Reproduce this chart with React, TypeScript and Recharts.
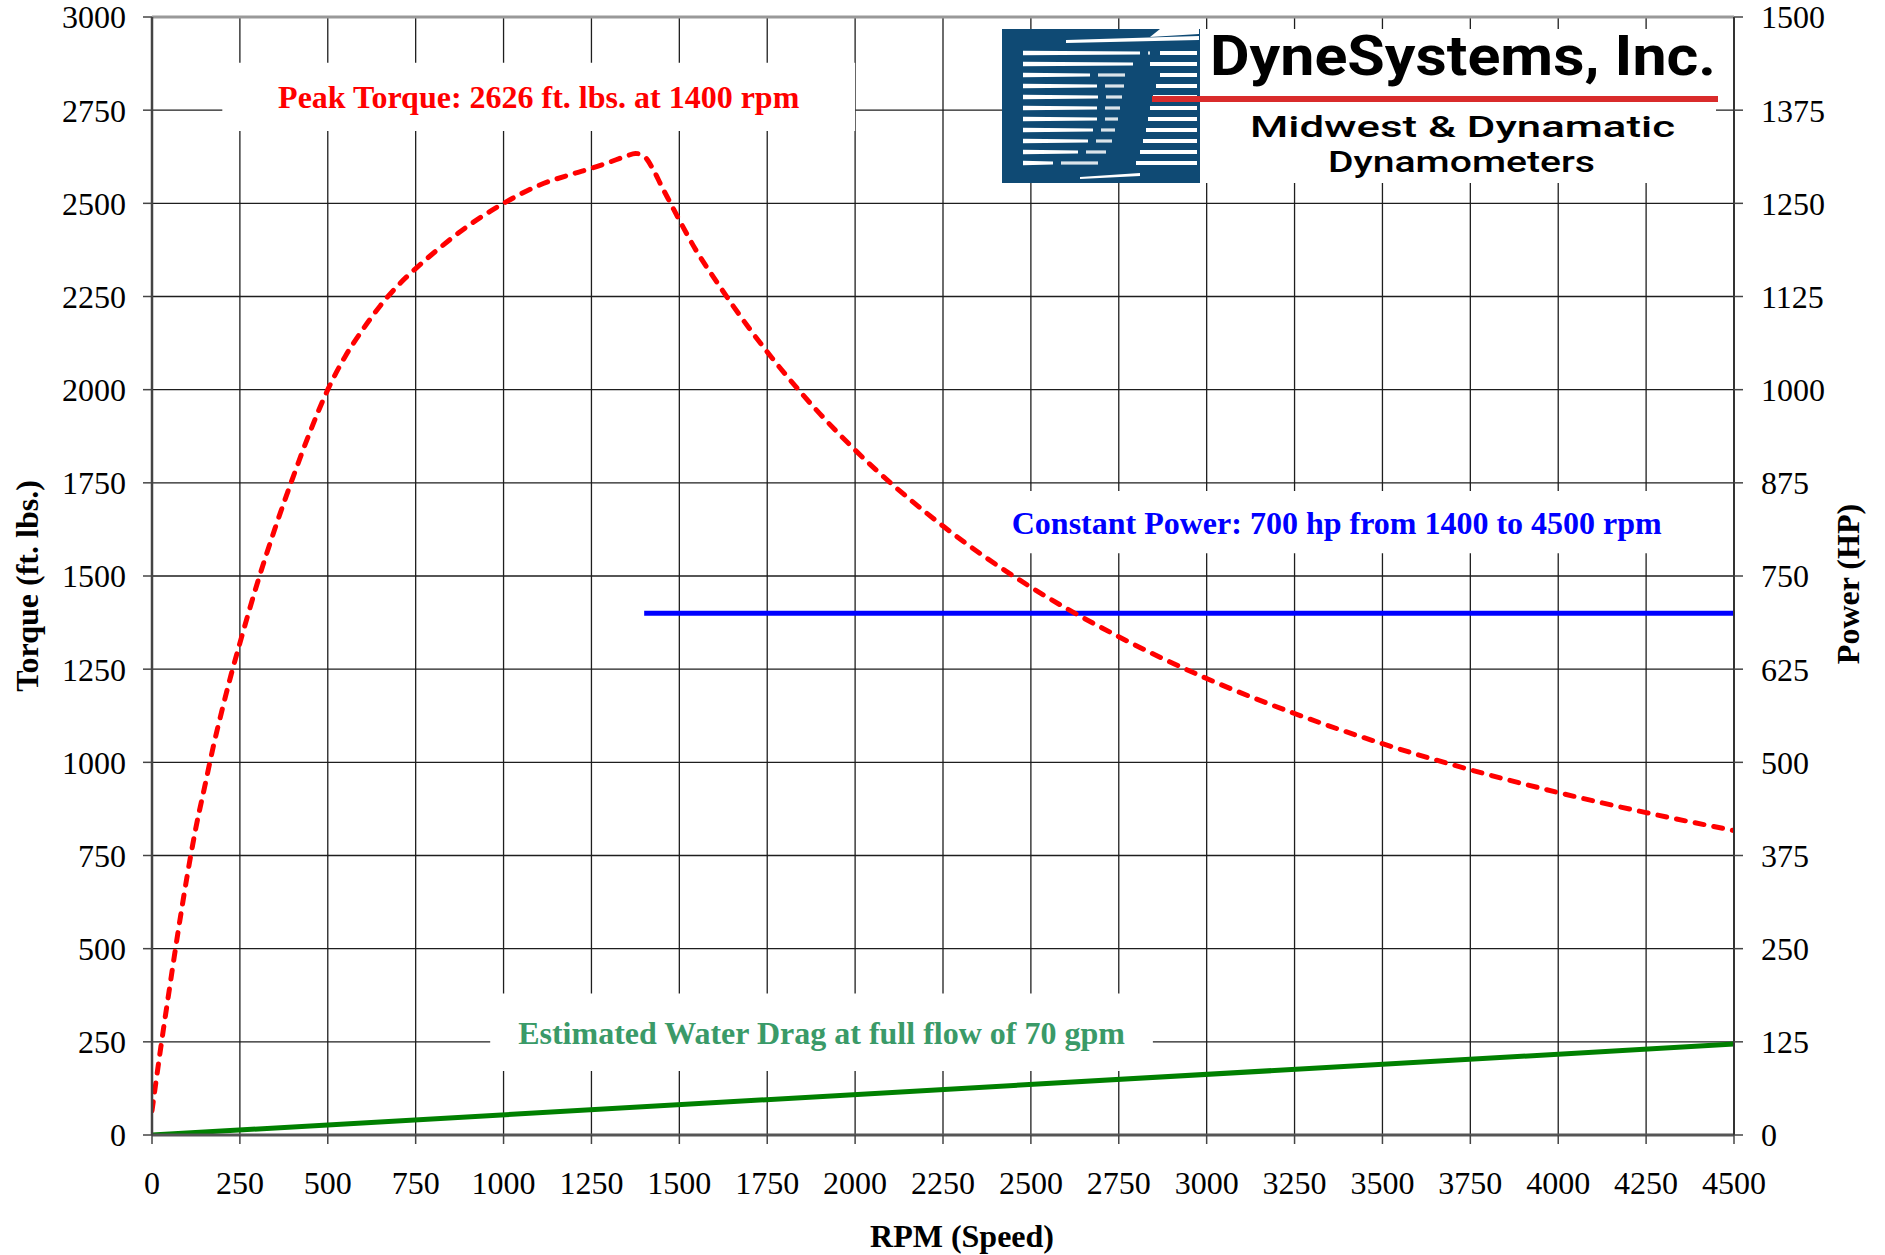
import {
  LineChart,
  Line,
  XAxis,
  YAxis,
  CartesianGrid,
  ReferenceArea,
  ReferenceLine,
} from 'recharts';

// axis ticks
const rpmTicks = [0, 250, 500, 750, 1000, 1250, 1500, 1750, 2000, 2250, 2500, 2750, 3000, 3250, 3500, 3750, 4000, 4250, 4500];
const torqueTicks = [0, 250, 500, 750, 1000, 1250, 1500, 1750, 2000, 2250, 2500, 2750, 3000];
const powerTicks = [0, 125, 250, 375, 500, 625, 750, 875, 1000, 1125, 1250, 1375, 1500];

// torque curve (ft. lbs.)
const torqueRpm = [
  0, 25, 50, 75, 100, 125, 150, 175, 200, 225, 250, 300, 350, 400, 450, 500, 550, 600, 650, 700, 750, 800, 900,
  1000, 1100, 1200, 1250, 1300, 1350, 1375, 1400, 1425, 1450, 1475, 1500, 1550, 1600, 1700, 1800,
  1900, 2000, 2250, 2500, 2750, 3000, 3250, 3500, 3750, 4000, 4250, 4500,
];
const torqueValues = [
  65, 235, 395, 550, 695, 825, 935, 1045, 1143, 1235, 1320, 1482, 1628, 1762, 1888, 2000, 2090, 2162, 2226, 2280, 2325, 2366, 2440,
  2500, 2548, 2580, 2594, 2610, 2627, 2634, 2626, 2592, 2545, 2500, 2455, 2370, 2298, 2163, 2043,
  1935, 1838, 1634, 1470, 1337, 1225, 1131, 1050, 980, 919, 865, 817,
];

// constant power (HP)
const powerRpm = [1400, 4500];
const powerValues = [700, 700];

// estimated water drag (HP)
const dragRpm = [0, 4500];
const dragValues = [0, 122];

const torqueData = torqueRpm.map((rpm, i) => ({ rpm, torque: torqueValues[i] }));
const powerData = powerRpm.map((rpm, i) => ({ rpm, power: powerValues[i] }));
const dragData = dragRpm.map((rpm, i) => ({ rpm, drag: dragValues[i] }));

const SERIF = '"Liberation Serif", "Times New Roman", serif';
const tickStyle = { fontSize: 32, fontFamily: SERIF, fill: '#000' };
const labelStyle = { fontSize: 32, fontWeight: 700, fontFamily: SERIF };

// logo stripes: [y, left end, gap start, gap end]
const STRIPES: [number, number, number, number][] = [
  [53, 1140, 1150, 1160],
  [64, 1133, 1140, 1150],
  [75, 1090, 1125, 1160],
  [86, 1097, 1124, 1156],
  [97, 1098, 1122, 1153],
  [108, 1097, 1120, 1150],
  [119, 1097, 1118, 1148],
  [130, 1093, 1115, 1146],
  [141, 1088, 1112, 1143],
  [152, 1078, 1106, 1140],
  [163, 1053, 1098, 1136],
];

function Overlay() {
  return (
    <svg
      width={1885}
      height={1255}
      style={{ position: 'absolute', left: 0, top: 0, pointerEvents: 'none' }}
    >
      {/* axis titles */}
      <text x={962} y={1236} textAnchor="middle" dominantBaseline="central" style={labelStyle}>
        RPM (Speed)
      </text>
      <text
        x={27}
        y={586}
        textAnchor="middle"
        dominantBaseline="central"
        transform="rotate(-90, 27, 586)"
        style={labelStyle}
      >
        Torque (ft. lbs.)
      </text>
      <text
        x={1848}
        y={584}
        textAnchor="middle"
        dominantBaseline="central"
        transform="rotate(-90, 1848, 584)"
        style={labelStyle}
      >
        Power (HP)
      </text>

      {/* logo */}
      <rect x={1003} y={29} width={713} height={154} fill="#fff" />
      <rect x={1002} y={29} width={198} height={154} fill="#0f4a74" />
      <polygon points="1066,40 1199,36 1199,40 1066,43" fill="#fff" />
      <polygon points="1160,29 1199,29 1199,34 1150,37" fill="#fff" />
      <polygon points="1080,177 1140,173 1140,176 1080,179" fill="#fff" />
      {STRIPES.map(([y, a, b, c]) => (
        <g key={y}>
          <polygon points={`1023,${y - 2.2} ${a},${y - 1.4} ${a},${y + 1.4} 1023,${y + 2.2}`} fill="#fff" />
          <rect x={a + 8} y={y - 1.6} width={b - a - 8} height={3.2} fill="#fff" fillOpacity={0.85} />
          <rect x={c} y={y - 2} width={1197 - c} height={4} fill="#fff" />
        </g>
      ))}
      <rect x={1152} y={96} width={566} height={6} fill="#d92b2b" />
      <text
        x={1210}
        y={75}
        textLength={506}
        lengthAdjust="spacingAndGlyphs"
        style={{ fontSize: 56, fontWeight: 700, fontFamily: 'Roboto, "Open Sans", sans-serif', fill: '#000' }}
      >
        DyneSystems, Inc.
      </text>
      <text
        x={1250}
        y={137}
        textLength={425}
        lengthAdjust="spacingAndGlyphs"
        style={{ fontSize: 30, fontWeight: 500, fontFamily: 'Roboto, "Open Sans", sans-serif', fill: '#000' }}
      >
        Midwest &amp; Dynamatic
      </text>
      <text
        x={1328}
        y={172}
        textLength={267}
        lengthAdjust="spacingAndGlyphs"
        style={{ fontSize: 29, fontWeight: 500, fontFamily: 'Roboto, "Open Sans", sans-serif', fill: '#000' }}
      >
        Dynamometers
      </text>
    </svg>
  );
}

export default function App() {
  return (
    <div style={{ position: 'absolute', left: 0, top: 0, width: 1885, height: 1255, background: '#fff' }}>
      <LineChart width={1885} height={1255} margin={{ top: 17, right: 51, bottom: 40, left: 52 }}>
        <CartesianGrid
          xAxisId="rpm"
          yAxisId="torque"
          stroke="#1e1e1e"
          strokeWidth={1.3}
        />
        <XAxis
          xAxisId="rpm"
          type="number"
          dataKey="rpm"
          domain={[0, 4500]}
          ticks={rpmTicks}
          interval={0}
          height={80}
          tick={tickStyle}
          tickSize={9}
          tickMargin={27}
          axisLine={{ stroke: '#555', strokeWidth: 3 }}
          tickLine={{ stroke: '#444', strokeWidth: 1.5 }}
          allowDataOverflow
        />
        <YAxis
          yAxisId="torque"
          orientation="left"
          domain={[0, 3000]}
          ticks={torqueTicks}
          interval={0}
          width={100}
          tick={tickStyle}
          tickSize={9}
          tickMargin={17}
          axisLine={{ stroke: '#444', strokeWidth: 2.5 }}
          tickLine={{ stroke: '#444', strokeWidth: 1.5 }}
          allowDataOverflow
        />
        <YAxis
          yAxisId="power"
          orientation="right"
          domain={[0, 1500]}
          ticks={powerTicks}
          interval={0}
          width={100}
          tick={tickStyle}
          tickSize={9}
          tickMargin={18}
          axisLine={{ stroke: '#333', strokeWidth: 2 }}
          tickLine={{ stroke: '#444', strokeWidth: 1.5 }}
          allowDataOverflow
        />
        <ReferenceLine xAxisId="rpm" yAxisId="torque" y={3000} stroke="#999" strokeWidth={3} />

        <ReferenceArea
          xAxisId="rpm"
          yAxisId="torque"
          x1={200}
          x2={2000}
          y1={2694}
          y2={2877}
          fill="#fff"
          fillOpacity={1}
          stroke="none"
          label={{ value: 'Peak Torque: 2626 ft. lbs. at 1400 rpm', position: 'center', fill: '#ff0000', ...labelStyle }}
        />
        <ReferenceArea
          xAxisId="rpm"
          yAxisId="torque"
          x1={2400}
          x2={4340}
          y1={1561}
          y2={1728}
          fill="#fff"
          fillOpacity={1}
          stroke="none"
          label={{ value: 'Constant Power: 700 hp from 1400 to 4500 rpm', position: 'center', fill: '#0000ff', ...labelStyle }}
        />
        <ReferenceArea
          xAxisId="rpm"
          yAxisId="torque"
          x1={962}
          x2={2847}
          y1={172}
          y2={380}
          fill="#fff"
          fillOpacity={1}
          stroke="none"
          label={{ value: 'Estimated Water Drag at full flow of 70 gpm', position: 'center', fill: '#3a9a68', ...labelStyle }}
        />

        <Line
          xAxisId="rpm"
          yAxisId="power"
          data={dragData}
          dataKey="drag"
          type="linear"
          stroke="#008000"
          strokeWidth={5}
          dot={false}
          isAnimationActive={false}
        />
        <Line
          xAxisId="rpm"
          yAxisId="power"
          data={powerData}
          dataKey="power"
          type="linear"
          stroke="#0000ff"
          strokeWidth={5}
          dot={false}
          isAnimationActive={false}
        />
        <Line
          xAxisId="rpm"
          yAxisId="torque"
          data={torqueData}
          dataKey="torque"
          type="monotone"
          stroke="#ff0000"
          strokeWidth={5}
          strokeDasharray="9 10"
          strokeLinecap="round"
          dot={false}
          isAnimationActive={false}
        />
      </LineChart>
      <Overlay />
    </div>
  );
}
